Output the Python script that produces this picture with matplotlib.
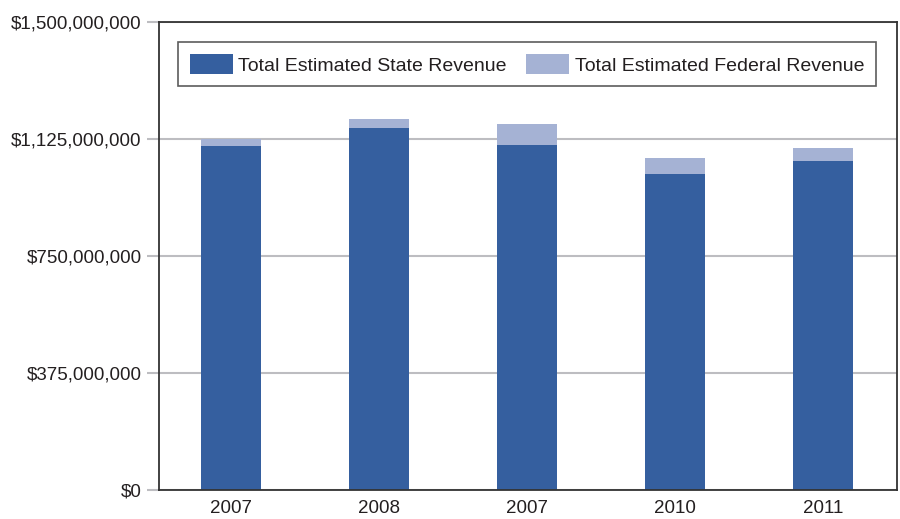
import matplotlib
matplotlib.use("Agg")
import matplotlib.pyplot as plt
from matplotlib.ticker import FuncFormatter
import numpy as np

years = ["2007", "2008", "2007", "2010", "2011"]
state_revenue = [1.102e9, 1.159e9, 1.105e9, 1.012e9, 1.054e9]
federal_revenue = [0.022e9, 0.029e9, 0.067e9, 0.051e9, 0.041e9]
y_ticks = [0, 375e6, 750e6, 1125e6, 1500e6]

STATE_COLOR = "#355f9f"
FED_COLOR = "#a5b2d4"
GRID_COLOR = "#bdbdc1"
SPINE_COLOR = "#333333"
TEXT_COLOR = "#231f20"

plt.rcParams["font.family"] = ["Liberation Sans", "DejaVu Sans"]

fig = plt.figure(figsize=(9.0, 5.19), dpi=100)
ax = fig.add_axes([159 / 900, 1 - 490 / 519, (897 - 159) / 900, (490 - 22) / 519])

x = np.arange(len(years))
width = 0.405
ax.bar(x, state_revenue, width, color=STATE_COLOR, label="Total Estimated State Revenue", zorder=2)
ax.bar(x, federal_revenue, width, bottom=state_revenue, color=FED_COLOR,
       label="Total Estimated Federal Revenue", zorder=2)

ax.set_xlim(-0.486, 4.5)
ax.set_ylim(0, 1.5e9)
ax.set_yticks(y_ticks)
ax.yaxis.set_major_formatter(FuncFormatter(lambda v, _: f"${v:,.0f}"))
ax.set_xticks(x)
ax.set_xticklabels(years)

ax.grid(axis="y", color=GRID_COLOR, linewidth=1.5, zorder=1)
ax.set_axisbelow(True)
for side in ["left", "bottom", "right", "top"]:
    ax.spines[side].set_color(SPINE_COLOR)
    ax.spines[side].set_linewidth(1.3)

ax.tick_params(axis="y", length=9, width=1.5, color=GRID_COLOR, labelsize=13.5,
               labelcolor=TEXT_COLOR, pad=3.5)
ax.tick_params(axis="x", length=0, labelsize=13.5, labelcolor=TEXT_COLOR, pad=7)

leg = ax.legend(loc="upper left", bbox_to_anchor=(0.026, 0.957), ncol=2,
                fontsize=14, frameon=True, fancybox=False, edgecolor="#333333",
                handlelength=2.2, handleheight=1.25, handletextpad=0.3,
                columnspacing=1.0, borderpad=0.6, borderaxespad=0)
leg.get_frame().set_linewidth(1.2)
for t in leg.get_texts():
    t.set_color(TEXT_COLOR)

fig.savefig("out.png", dpi=100)
